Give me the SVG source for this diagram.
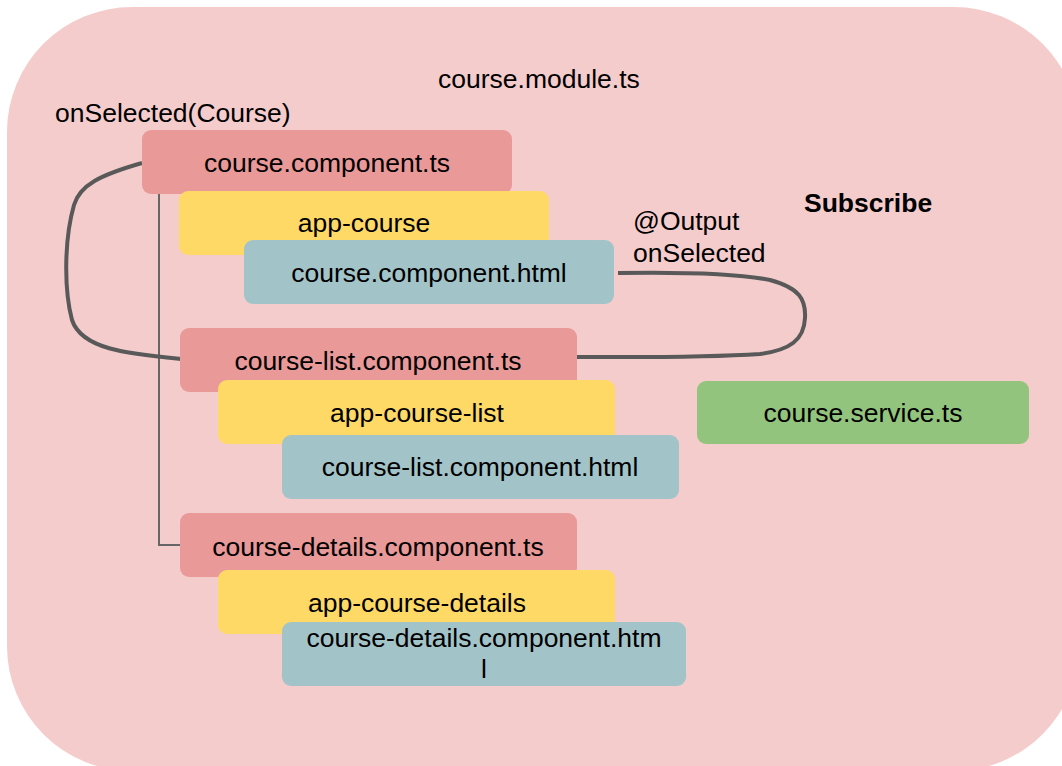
<svg xmlns="http://www.w3.org/2000/svg" width="1062" height="766" viewBox="0 0 1062 766">
<style>
text{font-family:"Liberation Sans",Arial,sans-serif;font-size:26.5px;fill:#000}
.c{text-anchor:middle}
.b{font-weight:bold}
.red{fill:#ea9999}
.yel{fill:#ffd966}
.blu{fill:#a2c4c9}
.grn{fill:#93c47d}
.thick{fill:none;stroke:#595959;stroke-width:4;stroke-linecap:butt}
.thin{fill:none;stroke:#666;stroke-width:2}
</style>
<rect x="7" y="7" width="1072" height="764" rx="125" ry="125" fill="#f4cccc"/>
<g id="labels">
<text x="438" y="88">course.module.ts</text>
<text x="55" y="122">onSelected(Course)</text>
<text class="b" x="804" y="212">Subscribe</text>
<text x="633" y="230">@Output</text>
<text x="633" y="262">onSelected</text>
</g>
<g id="connectors">
<path class="thin" d="M159,194 L159,545 L180,545"/>
<path class="thick" d="M142,163 C100,175 80,185 74,205 C64,240 64,290 72,320 C82,350 130,354 182,359"/>
<path class="thick" d="M618,273 C680,272 740,274 770,280 C800,288 806,300 805,318 C804,340 790,350 760,354 C700,358 620,357 577,357"/>
</g>
<g id="course-component-ts"><rect class="red" x="142" y="130" width="370" height="64" rx="9"/><text class="c" x="327" y="172">course.component.ts</text></g>
<g id="app-course"><rect class="yel" x="179" y="191" width="370" height="64" rx="9"/><text class="c" x="364" y="232">app-course</text></g>
<g id="course-component-html"><rect class="blu" x="244" y="240" width="370" height="64" rx="9"/><text class="c" x="429" y="282">course.component.html</text></g>
<g id="course-list-component-ts"><rect class="red" x="180" y="328" width="397" height="64" rx="9"/><text class="c" x="378" y="370">course-list.component.ts</text></g>
<g id="app-course-list"><rect class="yel" x="218" y="380" width="397" height="64" rx="9"/><text class="c" x="417" y="422">app-course-list</text></g>
<g id="course-list-component-html"><rect class="blu" x="282" y="435" width="397" height="64" rx="9"/><text class="c" x="480" y="476">course-list.component.html</text></g>
<g id="course-details-component-ts"><rect class="red" x="180" y="513" width="397" height="64" rx="9"/><text class="c" x="378" y="556">course-details.component.ts</text></g>
<g id="app-course-details"><rect class="yel" x="218" y="570" width="397" height="64" rx="9"/><text class="c" x="417" y="612">app-course-details</text></g>
<g id="course-details-component-html"><rect class="blu" x="282" y="622" width="404" height="64" rx="9"/><text class="c" x="484" y="647">course-details.component.htm</text><text class="c" x="484" y="678">l</text></g>
<g id="course-service-ts"><rect class="grn" x="697" y="381" width="332" height="63" rx="9"/><text class="c" x="863" y="422">course.service.ts</text></g>
</svg>
